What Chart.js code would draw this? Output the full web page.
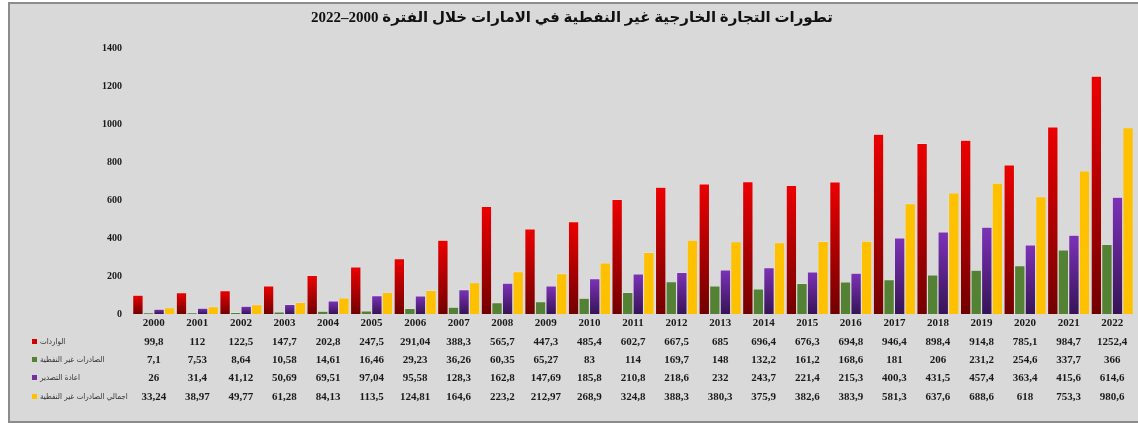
<!DOCTYPE html>
<html>
<head>
<meta charset="utf-8">
<script src="https://cdn.jsdelivr.net/npm/chart.js@4"></script>
<style>
  body { margin: 0; background: #fff; }
  #frame {
    position: absolute; left: 8px; top: 2px;
    width: 1130px; height: 417px;
    border: 2px solid #8c8c8c; border-right: none;
    background: #d9d9d9;
  }
  #frame canvas { display: block; }
</style>
</head>
<body>
<div id="frame"><canvas id="tradeChart" width="1128" height="417" dir="rtl"></canvas></div>
<script>
const years = ["2000","2001","2002","2003","2004","2005","2006","2007","2008","2009","2010","2011",
  "2012","2013","2014","2015","2016","2017","2018","2019","2020","2021","2022"];
const imports = [99.8,112,122.5,147.7,202.8,247.5,291.04,388.3,565.7,447.3,485.4,602.7,667.5,685,696.4,676.3,694.8,946.4,898.4,914.8,785.1,984.7,1252.4];
const nonOilExports = [7.1,7.53,8.64,10.58,14.61,16.46,29.23,36.26,60.35,65.27,83,114,169.7,148,132.2,161.2,168.6,181,206,231.2,254.6,337.7,366];
const reExports = [26,31.4,41.12,50.69,69.51,97.04,95.58,128.3,162.8,147.69,185.8,210.8,218.6,232,243.7,221.4,215.3,400.3,431.5,457.4,363.4,415.6,614.6];
const totalNonOil = [33.24,38.97,49.77,61.28,84.13,113.5,124.81,164.6,223.2,212.97,268.9,324.8,388.3,380.3,375.9,382.6,383.9,581.3,637.6,688.6,618,753.3,980.6];
const seriesNames = ["الواردات", "الصادرات غير النفطية", "اعادة التصدير", "اجمالي الصادرات غير النفطية"];
const yTicks = [0,200,400,600,800,1000,1200,1400];

const serif = "'Liberation Serif', 'DejaVu Sans'";

// vertical gradient per bar (bright top, dark bottom)
function barGradient(top, bottom) {
  return function (c) {
    const y = c.chart.scales.y;
    if (!y || c.type !== "data") return top;
    const y0 = y.getPixelForValue(0);
    const y1 = y.getPixelForValue(c.raw);
    if (!isFinite(y0) || !isFinite(y1) || y0 === y1) return top;
    const g = c.chart.ctx.createLinearGradient(0, y1, 0, y0);
    g.addColorStop(0, top);
    g.addColorStop(1, bottom);
    return g;
  };
}

const keyColors = ["#d00000", "#548235", "#7030a0", "#ffc000"];

// data table under the plot (like Excel)
const dataTable = {
  id: "dataTable",
  afterDraw(chart) {
    const ctx = chart.ctx;
    const x = chart.scales.x;
    const rowsY = [338, 356, 374, 393];
    ctx.save();
    chart.data.datasets.forEach((ds, r) => {
      const y = rowsY[r];
      ctx.fillStyle = keyColors[r];
      ctx.fillRect(22, y - 3, 5, 5);
      ctx.direction = "rtl";
      ctx.font = "8px 'DejaVu Sans Condensed', 'DejaVu Sans'";
      ctx.fillStyle = "#333";
      ctx.textAlign = "left";
      ctx.textBaseline = "middle";
      ctx.fillText(seriesNames[r], 30, y);
      ctx.direction = "ltr";
      ctx.font = "bold 11px " + serif;
      ctx.fillStyle = "#1a1a1a";
      ctx.textAlign = "center";
      ds.data.forEach((v, i) => {
        ctx.fillText(String(v).replace(".", ","), x.getPixelForValue(i), y);
      });
    });
    ctx.restore();
  }
};

const edge = "rgba(255,255,255,0.35)";

new Chart(document.getElementById("tradeChart"), {
  type: "bar",
  data: {
    labels: years,
    datasets: [
      { label: seriesNames[0], data: imports, backgroundColor: barGradient("#ec0000", "#720000"), borderColor: edge, borderWidth: 0.6 },
      { label: seriesNames[1], data: nonOilExports, backgroundColor: "#548235", borderColor: edge, borderWidth: 0.6 },
      { label: seriesNames[2], data: reExports, backgroundColor: barGradient("#7d32b8", "#361457"), borderColor: edge, borderWidth: 0.6 },
      { label: seriesNames[3], data: totalNonOil, backgroundColor: "#ffc000", borderColor: edge, borderWidth: 0.6 },
    ],
  },
  plugins: [dataTable],
  options: {
    responsive: false,
    animation: false,
    layout: { padding: { left: 0, right: 4, top: 0, bottom: 0 } },
    datasets: { bar: { categoryPercentage: 0.97, barPercentage: 1.0 } },
    plugins: {
      legend: { display: false },
      tooltip: { enabled: false },
      title: {
        display: true,
        text: "تطورات التجارة الخارجية غير النفطية في الامارات خلال الفترة 2000–2022",
        color: "#111",
        font: { family: serif, size: 15, weight: "bold" },
        padding: { top: 5, bottom: 21 },
      },
    },
    scales: {
      x: {
        grid: { display: false },
        border: { display: false },
        ticks: { color: "#1a1a1a", font: { family: serif, size: 11, weight: "bold" }, padding: -5, maxRotation: 0, autoSkip: false },
        afterFit(s) { s.height = 107; },
      },
      y: {
        min: 0,
        max: 1400,
        grid: { display: false },
        border: { display: false },
        afterBuildTicks(s) { s.ticks = yTicks.map(v => ({ value: v })); },
        ticks: {
          color: "#1a1a1a",
          font: { family: serif, size: 10, weight: "bold" },
          padding: 2,
          callback: (v) => String(v),
        },
        afterFit(s) { s.width = 122; },
      },
    },
  },
});
</script>
</body>
</html>
